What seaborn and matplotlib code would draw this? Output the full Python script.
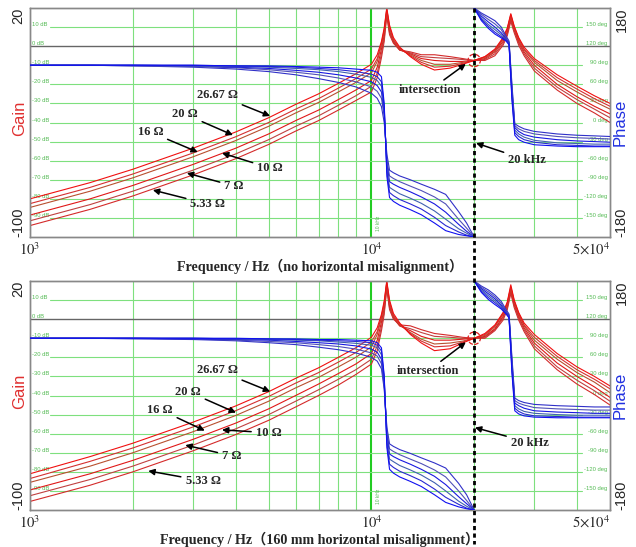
import matplotlib
matplotlib.use("Agg")
import matplotlib.pyplot as plt
from matplotlib.lines import Line2D
from matplotlib.transforms import blended_transform_factory
import seaborn as sns

# ---- data ----
loads = ["5.33 Ω", "7 Ω", "10 Ω", "16 Ω", "20 Ω", "26.67 Ω"]

freq_gain = [1000, 1500, 2000, 3000, 4000, 5000, 6000, 7000, 8000, 9000, 10000,
             10400, 10700, 10900, 11090, 11300, 11600, 12100, 13000, 14000, 15300,
             17000, 18500, 20000, 21500, 23000, 24300, 25000, 25600, 26200, 27000,
             28000, 30000, 35000, 40000, 45000, 50000]
freq_ph_lo = [1000, 1500, 2000, 3000, 4000, 5000, 6000, 7000, 8000, 9000, 10000,
              10400, 10700, 10900, 11100, 11300, 11600, 12100, 13000, 14000, 15300,
              16500, 18000, 19000, 20000]
freq_ph_hi = [20000, 21000, 22000, 23000, 24000, 24800, 25300, 25800, 26300, 27000,
              28000, 30000, 35000, 40000, 45000, 50000]

# gain (dB), no horizontal misalignment
gain_top = [
    [-94, -85.5, -78.5, -67.5, -59, -51.5, -44.5, -39, -33.5, -28.5, -24, -16.5, -6, 2.5, 16, 6, 1.5, -2, -3, -4.5, -4.5, -5.5, -6.5, -7.5, -7.5, -5, 0.5, 5.5, 13, 7, 0.5, -5, -13, -23, -30, -35, -40],
    [-91.5, -83, -76, -65, -56.5, -49, -42, -36.5, -31, -26, -21, -14, -4, 4, 17, 7, 2, -2, -3.5, -5.5, -6, -6.5, -7, -7.5, -7, -4, 1.5, 6.5, 14, 8, 1.5, -4, -11.5, -21.5, -28, -33, -37.5],
    [-88.5, -80, -73, -62, -53.5, -46, -39, -33.5, -28, -23, -18, -11, -1.5, 6, 18, 8, 2.5, -2, -4, -6.5, -7.5, -8, -8, -7.5, -6.5, -3, 2.5, 7.5, 15, 9, 2.5, -3, -10, -20, -26.5, -31.5, -35.5],
    [-84.5, -76, -69, -58, -49.5, -42, -35, -29.5, -24, -19, -14, -8, 0.5, 7.5, 19, 9, 3, -1.5, -4.5, -7.5, -9.5, -9.5, -8.5, -7.5, -6, -2.5, 3.5, 8.5, 16, 9.5, 3.5, -2, -8.5, -18, -24, -29, -33],
    [-82.5, -74, -67, -56, -47.5, -40, -33, -27.5, -22, -17, -12, -6.5, 1.5, 8.5, 19.5, 10, 3.5, -1, -5, -8.5, -11, -10.5, -9, -7.5, -5.5, -2, 4, 9, 16.5, 10, 4, -1.5, -7.5, -16.5, -22.5, -27.5, -31.5],
    [-80, -71.5, -64.5, -53.5, -45, -37.5, -30.5, -25, -19.5, -14.5, -9.5, -4.5, 2.5, 9.5, 20, 11, 4.5, -0.5, -5.5, -9.5, -12.5, -11.5, -9.5, -7.5, -5.5, -1.5, 4.5, 9.5, 17, 10.5, 4.5, -0.5, -6.5, -15, -21, -26, -30],
]
# phase (deg) below / above 20 kHz, no horizontal misalignment
phase_lo_top = [
    [90, 90, 89, 87, 84, 80, 75, 69, 63, 56, 46, 38, 25, 0, -50, -75, -79, -84, -90, -97, -105, -113, -140, -158, -180],
    [90, 90, 89, 88, 86, 83, 79, 75, 70, 64, 56, 49, 38, 10, -58, -84, -88, -93, -100, -107, -117, -128, -152, -166, -180],
    [90, 90, 90, 89, 87, 85, 82, 79, 75, 70, 64, 58, 48, 15, -65, -93, -97, -102, -109, -117, -128, -141, -160, -171, -180],
    [90, 90, 90, 89, 88, 87, 85, 83, 80, 76, 71, 66, 57, 20, -72, -102, -106, -112, -119, -127, -139, -152, -167, -174, -180],
    [90, 90, 90, 90, 89, 88, 87, 85, 83, 80, 76, 72, 64, 25, -78, -110, -115, -121, -128, -136, -149, -162, -172, -177, -180],
    [90, 90, 90, 90, 89, 89, 88, 87, 86, 84, 82, 79, 72, 30, -85, -118, -124, -130, -137, -145, -158, -170, -176, -178, -180],
]
phase_hi_top = [
    [180, 172, 166, 160, 150, 136, 128, 60, -2, -6, -10, -14, -18, -20, -21, -22],
    [180, 170, 162, 155, 146, 133, 126, 55, -5, -10, -14, -18, -22, -24, -25, -26],
    [180, 167, 158, 150, 141, 131, 125, 50, -8, -14, -19, -23, -27, -29, -30, -31],
    [180, 164, 154, 146, 138, 130, 124, 45, -12, -18, -23, -28, -32, -33, -34, -34],
    [180, 162, 151, 142, 135, 129, 123, 40, -16, -22, -27, -31, -35, -36, -37, -37],
    [180, 160, 148, 139, 133, 128, 122, 35, -20, -27, -31, -35, -37, -38, -38, -38],
]

# gain (dB), 160 mm horizontal misalignment
gain_bot = [
    [-95.5, -87, -80, -69, -60.5, -53, -46, -40, -34.5, -29, -23.5, -16.5, -6, 2.5, 16, 5, 0, -3, -3.5, -5.5, -7.5, -8.5, -9.5, -10, -10, -6, -0.5, 5, 13.5, 6, -0.5, -6.5, -15.5, -26.5, -34, -39.5, -45],
    [-92.5, -84, -77, -66, -57.5, -50, -43, -37, -31.5, -26.5, -21, -14, -4, 4, 17, 6, 0.5, -3.5, -5, -7, -9, -9.5, -10, -10, -9.5, -5.5, 0.5, 6, 14.5, 7, 0.5, -5.5, -14, -25, -32, -37.5, -43],
    [-89.5, -81, -74, -63, -54.5, -47, -40, -34, -28.5, -23.5, -18, -11, -1.5, 6, 18, 7, 1, -3.5, -6, -9, -11, -11, -10.5, -10, -9, -5, 1.5, 7, 15.5, 8, 1.5, -4.5, -12.5, -23, -30, -35.5, -41],
    [-85.5, -77, -70, -59, -50.5, -43, -36, -30.5, -25, -20, -14.5, -8, 0.5, 7.5, 19, 8, 1.5, -3, -7, -10.5, -13, -12.5, -11.5, -10, -8.5, -4, 2.5, 8, 16.5, 9, 2.5, -3.5, -11, -21, -28, -33, -38.5],
    [-83.5, -74.5, -67.5, -56.5, -48, -40.5, -33.5, -28, -22.5, -17.5, -12, -6.5, 1.5, 8.5, 19.5, 9, 2, -2.5, -7.5, -11.5, -14.5, -14, -12, -10, -8, -3.5, 3, 8.5, 17, 9.5, 3, -3, -9.5, -19.5, -26.5, -31.5, -36.5],
    [-81, -72, -65, -54, -45.5, -38, -31, -25.5, -20, -15, -9.5, -4.5, 2.5, 9.5, 20, 10, 3, -2, -8, -12.5, -16.5, -15.5, -12.5, -10, -7.5, -3, 3.5, 9, 18, 10, 3.5, -2, -8, -18, -25, -30, -35],
]
phase_lo_bot = [
    [90, 90, 89, 88, 86, 83, 80, 76, 72, 67, 60, 54, 42, 10, -50, -76, -80, -85, -91, -98, -106, -114, -138, -156, -180],
    [90, 90, 90, 89, 87, 85, 83, 80, 77, 73, 67, 62, 50, 15, -56, -84, -88, -93, -100, -107, -117, -128, -150, -165, -180],
    [90, 90, 90, 89, 88, 87, 85, 83, 81, 78, 73, 68, 57, 20, -62, -92, -96, -101, -108, -116, -127, -140, -159, -170, -180],
    [90, 90, 90, 90, 89, 88, 87, 86, 84, 82, 79, 75, 64, 25, -70, -100, -104, -110, -117, -125, -137, -150, -166, -174, -180],
    [90, 90, 90, 90, 89, 89, 88, 87, 86, 85, 83, 79, 70, 28, -76, -108, -113, -119, -126, -134, -147, -160, -171, -177, -180],
    [90, 90, 90, 90, 90, 89, 89, 88, 88, 87, 86, 83, 75, 32, -82, -116, -122, -128, -135, -143, -156, -168, -175, -178, -180],
]
phase_hi_bot = [
    [180, 172, 166, 158, 148, 135, 128, 60, -4, -8, -11, -14, -16, -17, -18, -18],
    [180, 170, 163, 155, 145, 133, 126, 55, -8, -12, -15, -19, -21, -22, -23, -23],
    [180, 168, 160, 152, 142, 131, 125, 50, -12, -16, -20, -24, -26, -27, -28, -28],
    [180, 166, 157, 149, 140, 130, 124, 45, -16, -21, -25, -28, -30, -31, -31, -31],
    [180, 164, 154, 146, 138, 129, 123, 40, -20, -25, -29, -32, -33, -34, -34, -34],
    [180, 162, 151, 143, 136, 128, 122, 35, -24, -29, -32, -34, -35, -35, -35, -35],
]

gain_grid = [10, -10, -20, -30, -40, -50, -60, -70, -80, -90]
db_labels = ["10 dB", "0 dB", "-10 dB", "-20 dB", "-30 dB", "-40 dB", "-50 dB", "-60 dB", "-70 dB", "-80 dB", "-90 dB"]
deg_labels = ["150 deg", "120 deg", "90 deg", "60 deg", "30 deg", "0 deg", "-30 deg", "-60 deg", "-90 deg", "-120 deg", "-150 deg"]
vgrid = [2000, 3000, 4000, 5000, 6000, 7000, 8000, 9000, 20000, 30000, 40000]

reds = ["#d42a2a", "#c04040", "#e01818", "#b85030", "#d43030", "#f01010"]
blues = ["#3030c8", "#5050b8", "#1818e0", "#4060b0", "#2828d0", "#1010f0"]

sns.set_style("white")
plt.rcParams["mathtext.fontset"] = "stix"
SERIF = ["Liberation Serif", "Noto Sans CJK SC"]
SANS = "Liberation Sans"
GREEN = "#7ee07e"

fig = plt.figure(figsize=(6.36, 5.47), dpi=100)
ax_top = fig.add_axes([0.0472, 0.5667, 0.912, 0.4187])
ax_bot = fig.add_axes([0.0472, 0.0676, 0.912, 0.4187])


def draw_panel(ax, gains, ph_lo, ph_hi, xlabel):
    ax.set_xscale("log")
    ax.set_xlim(1000, 50000)
    ax.set_ylim(-100, 20)
    for v in vgrid:
        ax.axvline(v, color=GREEN, lw=0.8, zorder=0)
    ax.axvline(10000, color="#22cc22", lw=1.5, zorder=0)
    for g in gain_grid:
        ax.axhline(g, xmin=0.035, xmax=0.952, color=GREEN, lw=0.8, zorder=0)
    ax.axhline(0, color="#666666", lw=1.0, zorder=0)
    for i, (dl, pl) in enumerate(zip(db_labels, deg_labels)):
        y = 10 - 10 * i
        ax.text(0.004, y + 1.3, dl, transform=blended_transform_factory(ax.transAxes, ax.transData),
                fontsize=4.2, color="#55bb55", family=SANS, va="center", ha="left")
        ax.text(0.996, y + 1.3, pl, transform=blended_transform_factory(ax.transAxes, ax.transData),
                fontsize=4.2, color="#55bb55", family=SANS, va="center", ha="right")
    ax.text(10300, -93, "10 kHz", rotation=90, fontsize=3.5, color="#55bb55", family=SANS,
            ha="left", va="center")

    for i in range(len(loads)):
        sns.lineplot(x=freq_gain, y=gains[i], ax=ax, color=reds[i], lw=0.8,
                     estimator=None, legend=False, zorder=3)

    ax2 = ax.twinx()
    ax2.set_ylim(-180, 180)
    for i in range(len(loads)):
        sns.lineplot(x=freq_ph_lo, y=ph_lo[i], ax=ax2, color=blues[i], lw=0.8,
                     estimator=None, legend=False, zorder=3)
        sns.lineplot(x=freq_ph_hi, y=ph_hi[i], ax=ax2, color=blues[i], lw=0.8,
                     estimator=None, legend=False, zorder=3)
    ax2.set_xlim(1000, 50000)
    ax2.set_yticks([])
    ax2.set_ylabel("")
    for a in (ax, ax2):
        for s in a.spines.values():
            s.set_color("#888888")
            s.set_linewidth(1.0)

    ax.set_yticks([])
    ax.set_xticks([1000, 10000, 50000])
    ax.set_xticks([], minor=True)
    ax.set_xticklabels(["$10^3$", "$10^4$", "$5{\\times}10^4$"], fontsize=10.5)
    ax.tick_params(axis="x", length=0, pad=3)
    ax.get_xticklabels()[-1].set_ha("right")
    ax.set_xlabel(xlabel, family=SERIF, fontweight="bold", fontsize=10.2, labelpad=1)
    ax.set_ylabel("")

    ax.text(-0.008, 1.0, "20", transform=ax.transAxes, rotation=90, ha="right", va="top",
            fontsize=10.5, family=SANS)
    ax.text(-0.008, 0.0, "-100", transform=ax.transAxes, rotation=90, ha="right", va="bottom",
            fontsize=10.5, family=SANS)
    ax.text(1.008, 1.0, "180", transform=ax.transAxes, rotation=90, ha="left", va="top",
            fontsize=10.5, family=SANS)
    ax.text(1.008, 0.0, "-180", transform=ax.transAxes, rotation=90, ha="left", va="bottom",
            fontsize=10.5, family=SANS)
    ax.text(-0.018, 0.52, "Gain", transform=ax.transAxes, rotation=90, ha="center", va="center",
            fontsize=12, color="#e03030", family=SANS)
    ax.text(1.017, 0.5, "Phase", transform=ax.transAxes, rotation=90, ha="center", va="center",
            fontsize=12, color="#2030e0", family=SANS)
    return ax2


draw_panel(ax_top, gain_top, phase_lo_top, phase_hi_top,
           "Frequency / Hz（no horizontal misalignment）")
draw_panel(ax_bot, gain_bot, phase_lo_bot, phase_hi_bot,
           "Frequency / Hz（160 mm horizontal misalignment）")

arrow = dict(arrowstyle="-|>", color="black", lw=1.1, mutation_scale=9, shrinkA=1, shrinkB=0)


def label(ax, text, xy, xytext):
    ax.annotate(text, xy=xy, xytext=xytext, ha="center", va="center", family=SERIF,
                fontweight="bold", fontsize=9, arrowprops=arrow, zorder=6)


# top panel annotations
label(ax_top, "26.67 Ω", (5050, -36.6), (3550, -25.6))
label(ax_top, "20 Ω", (3930, -46.6), (2840, -35.6))
label(ax_top, "16 Ω", (3100, -55.5), (2250, -45))
label(ax_top, "10 Ω", (3650, -56), (5050, -63.9))
label(ax_top, "7 Ω", (2880, -66.5), (3960, -73.3))
label(ax_top, "5.33 Ω", (2290, -75.4), (3320, -82.7))
label(ax_top, "intersection", (18900, -9.3), (14850, -23))
label(ax_top, "20 kHz", (20250, -50.8), (28600, -59.7))
ax_top.scatter([20000], [-7.5], s=80, facecolors="none", edgecolors="#e02020",
               linestyles="--", linewidths=0.9, zorder=5)

# bottom panel annotations
label(ax_bot, "26.67 Ω", (5050, -37.9), (3550, -26.8))
label(ax_bot, "20 Ω", (4010, -49), (2900, -37.9))
label(ax_bot, "16 Ω", (3250, -58.4), (2400, -47.4))
label(ax_bot, "10 Ω", (3650, -58), (5000, -59.5))
label(ax_bot, "7 Ω", (2850, -66), (3900, -71.6))
label(ax_bot, "5.33 Ω", (2220, -79.5), (3210, -84.7))
label(ax_bot, "intersection", (18900, -12.1), (14600, -27.4))
label(ax_bot, "20 kHz", (20100, -56.8), (29100, -64.7))
ax_bot.scatter([20000], [-10], s=80, facecolors="none", edgecolors="#e02020",
               linestyles="--", linewidths=0.9, zorder=5)

# dashed 20 kHz marker running through both panels
tr = blended_transform_factory(ax_top.transData, fig.transFigure)
fig.add_artist(Line2D([20000, 20000], [1 - 8 / 547, 0.005], transform=tr, color="black",
                      lw=2.0, linestyle=(0, (1.5, 1.2)), zorder=10))

fig.savefig("out.png", dpi=100)
